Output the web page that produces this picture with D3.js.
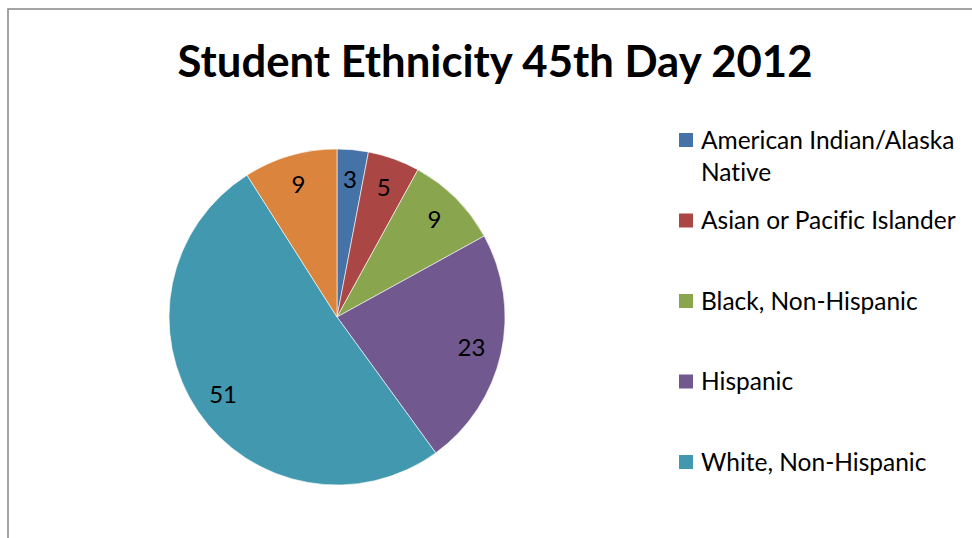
<!DOCTYPE html>
<html>
<head>
<meta charset="utf-8">
<script src="https://cdn.jsdelivr.net/npm/d3@7"></script>
<style>
  body { margin: 0; background: #fff; }
  text { font-family: Lato, "Open Sans", sans-serif; font-variant-ligatures: none; }
</style>
</head>
<body>
<div id="chart"></div>
<script>
// chart data
const categories = ["American Indian/Alaska Native", "Asian or Pacific Islander", "Black, Non-Hispanic", "Hispanic", "White, Non-Hispanic", ""]
const values = [3, 5, 9, 23, 51, 9]
const colors = ["#4572A7", "#AA4643", "#89A54E", "#71588F", "#4198AF", "#DB843D"]
const title = "Student Ethnicity 45th Day 2012"

const width = 972, height = 538

const svg = d3.select("#chart")
  .append("svg")
    .attr("width", width)
    .attr("height", height)

// chart frame (runs off the right and bottom of the picture)
svg.append("rect")
  .attr("x", 8).attr("y", 9)
  .attr("width", 1000).attr("height", 600)
  .attr("fill", "none")
  .attr("stroke", "#868686")
  .attr("stroke-width", 1.5)

// title, sized to fit the original width
const titleText = svg.append("text")
  .attr("x", 495).attr("y", 77)
  .attr("text-anchor", "middle")
  .style("font-weight", "bold")
  .style("font-size", "40px")
  .text(title)
const tw = titleText.node().getComputedTextLength()
titleText.style("font-size", (40 * 635 / tw) + "px")

// pie
const cx = 337, cy = 317, radius = 168
const pie = d3.pie().sort(null).value(d => d)
const arcs = pie(values)
const arc = d3.arc().innerRadius(0).outerRadius(radius)
const labelArc = d3.arc().innerRadius(radius * 0.82).outerRadius(radius * 0.82)

const g = svg.append("g").attr("transform", `translate(${cx}, ${cy})`)

g.selectAll("path")
  .data(arcs)
  .enter()
  .append("path")
    .attr("d", arc)
    .attr("fill", (d, i) => colors[i])
    .attr("stroke", "#fff")
    .attr("stroke-width", 0.6)

g.selectAll(".slice-label")
  .data(arcs)
  .enter()
  .append("text")
    .attr("class", "slice-label")
    .attr("transform", d => `translate(${labelArc.centroid(d)})`)
    .attr("text-anchor", "middle")
    .attr("dy", "0.36em")
    .style("font-size", "24px")
    .attr("fill", "#000")
    .text(d => d.data)

// legend
const legendX = 679, legendY = 140, legendStep = 80.5
const legendFont = 24.5
const legend = svg.append("g")

const legendItems = categories.slice(0, 5)
legendItems.forEach(function(name, i) {
  const y = legendY + i * legendStep
  legend.append("rect")
    .attr("x", legendX).attr("y", y - 7)
    .attr("width", 14).attr("height", 14)
    .attr("fill", colors[i])

  const t = legend.append("text")
    .attr("x", legendX + 22).attr("y", y)
    .attr("dy", "0.35em")
    .style("font-size", legendFont + "px")
    .attr("fill", "#000")

  // wrap long names onto a second line
  const words = name.split(" ")
  let line = []
  let tspan = t.append("tspan").attr("x", legendX + 22)
  words.forEach(function(w) {
    line.push(w)
    tspan.text(line.join(" "))
    if (tspan.node().getComputedTextLength() > 262 && line.length > 1) {
      line.pop()
      tspan.text(line.join(" "))
      line = [w]
      tspan = t.append("tspan").attr("x", legendX + 22).attr("y", y + 32).attr("dy", "0.35em").text(w)
    }
  })
})
</script>
</body>
</html>
